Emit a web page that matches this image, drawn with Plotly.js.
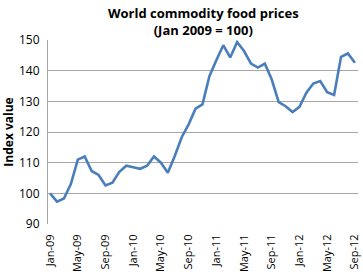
<!DOCTYPE html>
<html>
<head>
<meta charset="utf-8">
<script src="https://cdn.plot.ly/plotly-3.0.1.min.js"></script>
<style>html,body{margin:0;padding:0;background:#fff;}#chart{width:363px;height:275px;}</style>
</head>
<body>
<div id="chart"></div>
<script>
const months = [
  "Jan-09","Feb-09","Mar-09","Apr-09","May-09","Jun-09","Jul-09","Aug-09","Sep-09","Oct-09","Nov-09","Dec-09",
  "Jan-10","Feb-10","Mar-10","Apr-10","May-10","Jun-10","Jul-10","Aug-10","Sep-10","Oct-10","Nov-10","Dec-10",
  "Jan-11","Feb-11","Mar-11","Apr-11","May-11","Jun-11","Jul-11","Aug-11","Sep-11","Oct-11","Nov-11","Dec-11",
  "Jan-12","Feb-12","Mar-12","Apr-12","May-12","Jun-12","Jul-12","Aug-12","Sep-12"
];
const indexValues = [
  100, 97.3, 98.3, 103, 111, 112, 107.3, 106, 102.6, 103.5, 107, 109,
  108.5, 108, 109, 112, 110, 106.7, 112.2, 118.3, 122.5, 127.6, 129, 138.2,
  143.4, 148.3, 144.3, 149.3, 146.4, 142.3, 141, 142.3, 137.1, 129.7, 128.4, 126.5,
  128.2, 132.8, 135.8, 136.6, 133, 132.1, 144.5, 145.6, 142.6
];
const tickLabels = ["Jan-09","May-09","Sep-09","Jan-10","May-10","Sep-10","Jan-11","May-11","Sep-11","Jan-12","May-12","Sep-12"];
const yTicks = [90, 100, 110, 120, 130, 140, 150];

const xIdx = months.map((m, i) => i);
const tickVals = tickLabels.map(t => months.indexOf(t));

const font = "Open Sans, Liberation Sans, sans-serif";
Plotly.newPlot("chart", [{
  x: xIdx,
  y: indexValues,
  type: "scatter",
  mode: "lines",
  line: {color: "#4a7ebb", width: 2.6},
  hoverinfo: "skip"
}], {
  width: 363, height: 275,
  margin: {l: 48, r: 5, t: 40, b: 51, pad: 0},
  paper_bgcolor: "#fff", plot_bgcolor: "#fff",
  showlegend: false,
  title: {
    text: "<b>World commodity food prices<br>(Jan 2009 = 100)</b>",
    font: {family: font, size: 13, color: "#000"},
    x: 0.56, xanchor: "center",
    yref: "container", y: 0.935, yanchor: "middle"
  },
  xaxis: {
    range: [-0.3, 44.45],
    tickmode: "array", tickvals: tickVals, ticktext: tickLabels,
    tickangle: -90,
    tickfont: {family: font, size: 11, color: "#000"},
    showgrid: false, zeroline: false,
    showline: false, ticks: "outside", ticklen: 5, tickcolor: "rgba(0,0,0,0)"
  },
  yaxis: {
    range: [90, 150],
    tickmode: "array", tickvals: yTicks,
    tickfont: {family: font, size: 12, color: "#000"},
    showgrid: true, gridcolor: "#a6a6a6", gridwidth: 1,
    zeroline: false,
    showline: true, linecolor: "#a6a6a6", linewidth: 1,
    ticks: "outside", ticklen: 5, tickcolor: "rgba(0,0,0,0)",
    title: {text: "<b>Index value</b>", font: {family: font, size: 12, color: "#000"}, standoff: 4}
  }
}, {displayModeBar: false, staticPlot: true});
</script>
</body>
</html>
